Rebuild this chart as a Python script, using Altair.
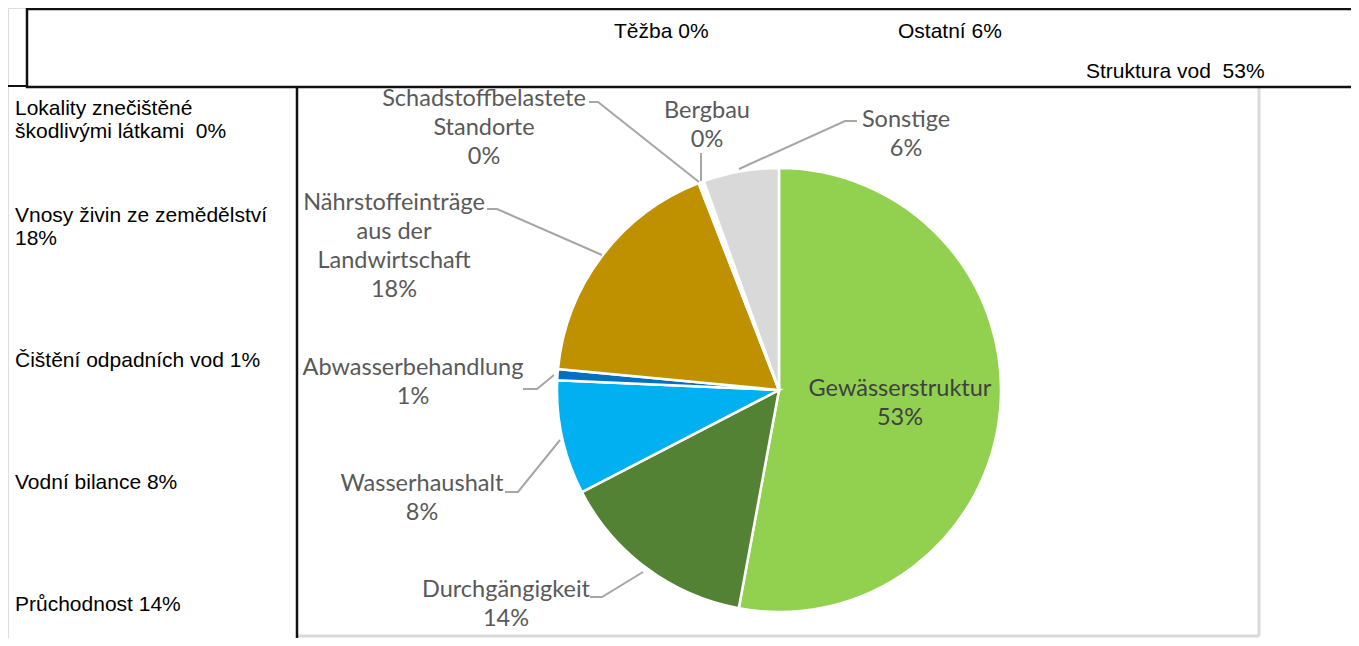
import altair as alt
import pandas as pd

# ---------------- data ----------------
slice_names = ["Gewässerstruktur", "Durchgängigkeit", "Wasserhaushalt",
               "Abwasserbehandlung", "Nährstoffeinträge aus der Landwirtschaft",
               "Schadstoffbelastete Standorte", "Bergbau", "Sonstige"]
slice_shares = [52.9, 14.5, 8.3, 0.8, 17.6, 0.2, 0.2, 5.5]
slice_colors = ["#92D050", "#548235", "#00B0F0", "#0070C0", "#BF9000",
                "#FFFFFF", "#FFFFFF", "#D9D9D9"]
slice_labels = ["Gewässerstruktur\n53%", "Durchgängigkeit\n14%", "Wasserhaushalt\n8%",
                "Abwasserbehandlung\n1%", "Nährstoffeinträge\naus der\nLandwirtschaft\n18%",
                "Schadstoffbelastete\nStandorte\n0%", "Bergbau\n0%", "Sonstige\n6%"]

NB = "\u00a0"
cz_left = ["Lokality znečištěné\nškodlivými látkami " + NB + "0%", "Vnosy živin ze zemědělství\n18%",
           "Čištění odpadních vod 1%", "Vodní bilance 8%", "Průchodnost 14%"]
cz_top = ["Těžba 0%", "Ostatní 6%", "Struktura vod " + NB + "53%"]

# ---------------- layout (page pixel coordinates) ----------------
W, H = 1343, 630
OFF = 8
PIE_X, PIE_Y, PIE_R = 779, 390, 222

# first-line centres of the slice labels
label_x = [900, 506, 422, 413, 394, 484, 707, 906]
label_y = [389, 590, 484, 368, 203, 99, 111, 120]
label_col = ["#404040"] + ["#595959"] * 7

leader_pts = {
    "Durchgängigkeit": [(590, 597), (602, 597), (643, 572)],
    "Wasserhaushalt": [(505, 492), (518, 492), (560, 440)],
    "Abwasserbehandlung": [(523, 389), (537, 389), (554, 375)],
    "Nährstoff": [(487, 209), (497, 209), (602, 255)],
    "Schadstoff": [(589, 102), (598, 102), (699, 182)],
    "Bergbau": [(701, 153), (701, 181)],
    "Sonstige": [(857, 121), (845, 121), (739, 169)],
}

cz_left_x = [15] * 5
cz_left_y = [109, 216, 361, 483, 605]
cz_top_x = [614, 898, 1086]
cz_top_y = [32, 32, 72]

xs = alt.Scale(domain=[OFF, OFF + W], range=[0, W], nice=False, zero=False)
ys = alt.Scale(domain=[OFF, OFF + H], range=[0, H], nice=False, zero=False)

pie_df = pd.DataFrame({"name": slice_names, "share": slice_shares,
                       "idx": list(range(len(slice_names)))})
pie = alt.Chart(pie_df).mark_arc(radius=PIE_R, stroke="white", strokeWidth=2.5).encode(
    theta=alt.Theta("share:Q", stack=True),
    color=alt.Color("name:N", scale=alt.Scale(domain=slice_names, range=slice_colors), legend=None),
    order=alt.Order("idx:Q"),
    x=alt.value(PIE_X - OFF),
    y=alt.value(PIE_Y - OFF),
)

rows = []
for k, pts in leader_pts.items():
    for i, (px, py) in enumerate(pts):
        rows.append({"lid": k, "o": i, "x": px, "y": py})
lead_df = pd.DataFrame(rows)
leaders = alt.Chart(lead_df).mark_line(color="#A6A6A6", strokeWidth=2).encode(
    x=alt.X("x:Q", scale=xs, axis=None),
    y=alt.Y("y:Q", scale=ys, axis=None),
    detail="lid:N",
    order="o:Q",
)

lab_df = pd.DataFrame({"t": slice_labels, "x": label_x, "y": label_y, "c": label_col})
labels = alt.Chart(lab_df).mark_text(font="Lato", fontSize=23.5, lineBreak="\n",
                                     lineHeight=29, align="center", baseline="middle").encode(
    x=alt.X("x:Q", scale=xs, axis=None),
    y=alt.Y("y:Q", scale=ys, axis=None),
    text="t:N",
    color=alt.Color("c:N", scale=None),
)

czl_df = pd.DataFrame({"t": cz_left, "x": cz_left_x, "y": cz_left_y})
czl = alt.Chart(czl_df).mark_text(font="Liberation Sans", fontSize=21, lineBreak="\n",
                                  lineHeight=23, align="left", baseline="middle",
                                  color="black").encode(
    x=alt.X("x:Q", scale=xs, axis=None),
    y=alt.Y("y:Q", scale=ys, axis=None),
    text="t:N",
)
czt_df = pd.DataFrame({"t": cz_top, "x": cz_top_x, "y": cz_top_y})
czt = alt.Chart(czt_df).mark_text(font="Liberation Sans", fontSize=21, align="left",
                                  baseline="middle", color="black").encode(
    x=alt.X("x:Q", scale=xs, axis=None),
    y=alt.Y("y:Q", scale=ys, axis=None),
    text="t:N",
)

# frame lines
frame_df = pd.DataFrame({
    "x": [1259, 297, 297, 8],
    "x2": [1259, 1259, 297, 27],
    "y": [88, 636, 88, 86],
    "y2": [636, 636, 646, 86],
    "c": ["#D9D9D9", "#D9D9D9", "#111111", "#111111"],
    "w": [3, 3, 2.5, 2],
})
frame = alt.Chart(frame_df).mark_rule().encode(
    x=alt.X("x:Q", scale=xs, axis=None), x2="x2:Q",
    y=alt.Y("y:Q", scale=ys, axis=None), y2="y2:Q",
    color=alt.Color("c:N", scale=None),
    strokeWidth=alt.StrokeWidth("w:Q", scale=None),
)

box_df = pd.DataFrame({"x": [27], "x2": [1420], "y": [9], "y2": [87]})
box = alt.Chart(box_df).mark_rect(fill="white", stroke="#111111", strokeWidth=2.5).encode(
    x=alt.X("x:Q", scale=xs, axis=None), x2="x2:Q",
    y=alt.Y("y:Q", scale=ys, axis=None), y2="y2:Q",
)

chart = alt.layer(frame, pie, leaders, labels, czl, box, czt).properties(
    width=W, height=H, padding=0,
    autosize=alt.AutoSizeParams(type="none"),
).configure_view(stroke=None).configure(background="white")

chart.save("out.html", embed_options={"renderer": "svg", "actions": False})
